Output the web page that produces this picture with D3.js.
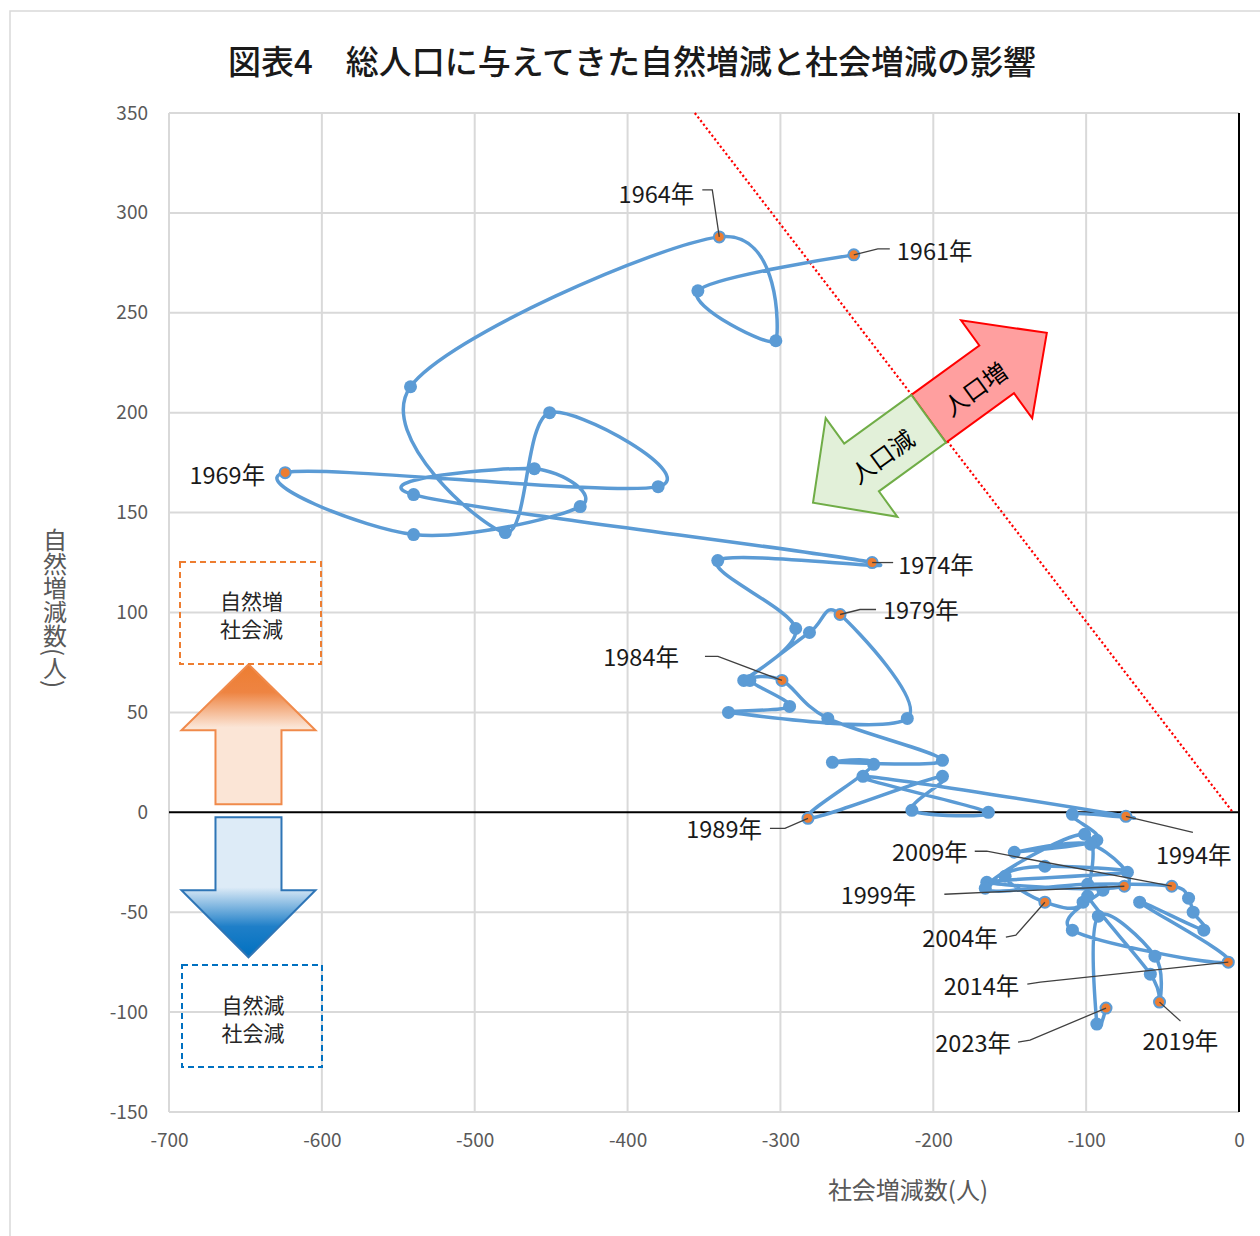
<!DOCTYPE html>
<html>
<head>
<meta charset="utf-8">
<script src="https://cdn.jsdelivr.net/npm/d3@7"></script>
<style>
  html, body { margin: 0; padding: 0; background: #fff; }
  svg { display: block; font-family: "Noto Sans CJK JP", "Noto Sans", sans-serif; }
</style>
</head>
<body>
<svg id="chart" width="1260" height="1236"></svg>
<script>
// ---- data: social change (x) and natural change (y) per year ----
const years = [
  1961, 1962, 1963, 1964, 1965, 1966, 1967, 1968, 1969, 1970,
  1971, 1972, 1973, 1974, 1975, 1976, 1977, 1978, 1979, 1980,
  1981, 1982, 1983, 1984, 1985, 1986, 1987, 1988, 1989, 1990,
  1991, 1992, 1993, 1994, 1995, 1996, 1997, 1998, 1999, 2000,
  2001, 2002, 2003, 2004, 2005, 2006, 2007, 2008, 2009, 2010,
  2011, 2012, 2013, 2014, 2015, 2016, 2017, 2018, 2019, 2020,
  2021, 2022, 2023
];
const socialChange = [
  -252, -354, -303, -340, -542, -480, -451, -380, -624, -540,
  -431, -461, -540, -240, -341, -290, -324, -281, -261, -217,
  -334, -294, -320, -299, -269, -194, -266, -239, -282, -194,
  -214, -164, -246,  -74, -109,  -93, -147,  -97,  -75, -165,
   -73, -127, -153, -127, -102, -101, -166,  -99,  -44,  -33,
   -30,  -23,  -65,   -7, -109,  -89,  -99,  -58,  -52,  -55,
   -92,  -93,  -87
];
const naturalChange = [
   279,  261,  236,  288,  213,  140,  200,  163,  170,  139,
   153,  172,  159,  125,  126,   92,   66,   90,   99,   47,
    50,   53,   66,   66,   47,   26,   25,   24,   -3,   18,
     1,    0,   18,   -2,   -1,  -14,  -20,  -16,  -37,  -35,
   -30,  -27,  -32,  -45,  -45,  -11,  -38,  -36,  -37,  -43,
   -50,  -59,  -45,  -75,  -59,  -39,  -42,  -81,  -95,  -72,
   -52, -106,  -98
];
const labeledYears = [1961, 1964, 1969, 1974, 1979, 1984, 1989, 1994, 1999, 2004, 2009, 2014, 2019, 2023];
const xTicks = [-700, -600, -500, -400, -300, -200, -100, 0];
const yTicks = [-150, -100, -50, 0, 50, 100, 150, 200, 250, 300, 350];

// break-even line (total change = 0) endpoints, in data units
const breakEvenLine = [[-356, 350], [-4, 0]];

const titleText = "図表4　総人口に与えてきた自然増減と社会増減の影響";
const xTitle = "社会増減数(人)";
const yTitle = "自然増減数(人)";

// ---- layout ----
const svg = d3.select("#chart");
const x = d3.scaleLinear().domain([-700, 0]).range([169, 1239]);
const y = d3.scaleLinear().domain([-150, 350]).range([1112, 113]);

const points = years.map((yr, i) => ({ year: yr, sx: socialChange[i], ny: naturalChange[i] }));

// label placement relative to the marker (pixels)
const labelLayout = {
  1961: { dx: 43,   dy: -5,  anchor: "start", leader: [[0,0],[24,-6],[36,-6]] },
  1964: { dx: -25,  dy: -44, anchor: "end",   leader: [[0,0],[-7,-47],[-17,-47]] },
  1969: { dx: -20,  dy: 1,   anchor: "end",   leader: null },
  1974: { dx: 26,   dy: 1,   anchor: "start", leader: [[0,0],[21,0]] },
  1979: { dx: 43,   dy: -5,  anchor: "start", leader: [[0,0],[20,-5],[36,-5]] },
  1984: { dx: -103, dy: -24, anchor: "end",   leader: [[0,0],[-64,-24],[-77,-24]] },
  1989: { dx: -46,  dy: 10,  anchor: "end",   leader: [[0,0],[-23,10],[-38,10]] },
  1994: { dx: 30,   dy: 38,  anchor: "start", leader: [[0,0],[67,16]] },
  1999: { dx: -208, dy: 8,   anchor: "end",   leader: [[0,0],[-180,8]] },
  2004: { dx: -47,  dy: 35,  anchor: "end",   leader: [[0,0],[-29,33],[-39,35]] },
  2009: { dx: -204, dy: -35, anchor: "end",   leader: [[0,0],[-185,-35],[-197,-35]] },
  2014: { dx: -209, dy: 23,  anchor: "end",   leader: [[0,0],[-188,20],[-201,22]] },
  2019: { dx: -17,  dy: 38,  anchor: "start", leader: [[0,0],[21,19]] },
  2023: { dx: -95,  dy: 34,  anchor: "end",   leader: [[0,0],[-76,32],[-88,34]] }
};

// chart area frame
svg.append("rect")
  .attr("x", 10).attr("y", 11).attr("width", 1270).attr("height", 1240)
  .attr("fill", "#fff").attr("stroke", "#D9D9D9").attr("stroke-width", 1.5);

// title
svg.append("text")
  .attr("x", 632).attr("y", 60)
  .attr("text-anchor", "middle").attr("dominant-baseline", "central")
  .attr("font-size", 33).attr("font-weight", 500).attr("fill", "#1a1a1a")
  .text(titleText);

// gridlines
const grid = svg.append("g");
grid.selectAll("line.gx").data(xTicks.filter(d => d !== 0)).join("line")
  .attr("x1", d => x(d)).attr("x2", d => x(d))
  .attr("y1", y(-150)).attr("y2", y(350))
  .attr("stroke", "#D9D9D9").attr("stroke-width", 2);
grid.selectAll("line.gy").data(yTicks.filter(d => d !== 0)).join("line")
  .attr("x1", x(-700)).attr("x2", x(0))
  .attr("y1", d => y(d)).attr("y2", d => y(d))
  .attr("stroke", "#D9D9D9").attr("stroke-width", 2);

// axis lines through zero
svg.append("line")
  .attr("x1", x(-700)).attr("x2", x(0)).attr("y1", y(0)).attr("y2", y(0))
  .attr("stroke", "#000").attr("stroke-width", 2);
svg.append("line")
  .attr("x1", x(0)).attr("x2", x(0)).attr("y1", y(-150)).attr("y2", y(350))
  .attr("stroke", "#000").attr("stroke-width", 2);

// tick labels
const yAxis = svg.append("g").attr("transform", `translate(${x(-700)},0)`)
  .call(d3.axisLeft(y).tickValues(yTicks).tickSize(0).tickPadding(21).tickFormat(d => String(d)));
const xAxis = svg.append("g").attr("transform", `translate(0,${y(-150)})`)
  .call(d3.axisBottom(x).tickValues(xTicks).tickSize(0).tickPadding(22).tickFormat(d => String(d)));
[yAxis, xAxis].forEach(a => {
  a.select(".domain").remove();
  a.selectAll("text")
    .attr("font-family", "'Noto Sans CJK JP', 'Noto Sans', sans-serif")
    .attr("font-size", 19).attr("fill", "#595959");
});

// axis titles
svg.append("text")
  .attr("x", 908).attr("y", 1188)
  .attr("text-anchor", "middle").attr("dominant-baseline", "central")
  .attr("font-size", 24).attr("fill", "#595959")
  .text(xTitle);
svg.append("text")
  .attr("x", 55).attr("y", 608)
  .attr("text-anchor", "middle")
  .style("writing-mode", "vertical-rl")
  .style("text-orientation", "mixed")
  .attr("font-size", 24).attr("fill", "#595959")
  .text(yTitle);

// break-even dotted line
svg.append("line")
  .attr("x1", x(breakEvenLine[0][0])).attr("y1", y(breakEvenLine[0][1]))
  .attr("x2", x(breakEvenLine[1][0])).attr("y2", y(breakEvenLine[1][1]))
  .attr("stroke", "#FF0000").attr("stroke-width", 2.2)
  .attr("stroke-dasharray", "2.2,2.4");

// ---- gradient arrows and boxes on the left ----
const defs = svg.append("defs");
const gUp = defs.append("linearGradient").attr("id", "gradUp")
  .attr("x1", 0).attr("y1", 0).attr("x2", 0).attr("y2", 1);
gUp.append("stop").attr("offset", "0%").attr("stop-color", "#ED7D31");
gUp.append("stop").attr("offset", "20%").attr("stop-color", "#EE8442");
gUp.append("stop").attr("offset", "45%").attr("stop-color", "#FBE5D6");
gUp.append("stop").attr("offset", "100%").attr("stop-color", "#FBE5D6");
const gDown = defs.append("linearGradient").attr("id", "gradDown")
  .attr("x1", 0).attr("y1", 0).attr("x2", 0).attr("y2", 1);
gDown.append("stop").attr("offset", "0%").attr("stop-color", "#DDEBF7");
gDown.append("stop").attr("offset", "50%").attr("stop-color", "#DDEBF7");
gDown.append("stop").attr("offset", "78%").attr("stop-color", "#1F7FC8");
gDown.append("stop").attr("offset", "100%").attr("stop-color", "#0070C0");

const ax = x(-648), ay = y(0);
const upArrow = [[0,-148],[67,-82],[33,-82],[33,-8],[-33,-8],[-33,-82],[-67,-82]];
const downArrow = [[-33,5],[33,5],[33,78],[67,78],[0,145],[-67,78],[-33,78]];
const poly = pts => "M" + pts.map(p => `${ax + p[0]},${ay + p[1]}`).join("L") + "Z";
svg.append("path").attr("d", poly(upArrow))
  .attr("fill", "url(#gradUp)").attr("stroke", "#F08A4B").attr("stroke-width", 2);
svg.append("path").attr("d", poly(downArrow))
  .attr("fill", "url(#gradDown)").attr("stroke", "#2E75B6").attr("stroke-width", 2);

const boxes = [
  { x0: 180, y0: 562, x1: 321, y1: 664, color: "#ED7D31", lines: ["自然増", "社会減"], ty: [600, 628] },
  { x0: 182, y0: 965, x1: 322, y1: 1067, color: "#0070C0", lines: ["自然減", "社会減"], ty: [1004, 1032] }
];
boxes.forEach(b => {
  svg.append("rect")
    .attr("x", b.x0).attr("y", b.y0).attr("width", b.x1 - b.x0).attr("height", b.y1 - b.y0)
    .attr("fill", "none").attr("stroke", b.color).attr("stroke-width", 2)
    .attr("stroke-dasharray", "6,4");
  b.lines.forEach((t, i) => {
    svg.append("text")
      .attr("x", (b.x0 + b.x1) / 2 + 1).attr("y", b.ty[i])
      .attr("text-anchor", "middle").attr("dominant-baseline", "central")
      .attr("font-size", 21).attr("fill", "#262626").text(t);
  });
});

// ---- series path ----
const line = d3.line()
  .x(d => x(d.sx)).y(d => y(d.ny))
  .curve(d3.curveCardinal.tension(0));
svg.append("path")
  .datum(points)
  .attr("d", line)
  .attr("fill", "none").attr("stroke", "#5B9BD5").attr("stroke-width", 3.5)
  .attr("stroke-linejoin", "round").attr("stroke-linecap", "round");

svg.append("g").selectAll("circle").data(points).join("circle")
  .attr("cx", d => x(d.sx)).attr("cy", d => y(d.ny))
  .attr("r", d => labeledYears.includes(d.year) ? 5.5 : 6.5)
  .attr("fill", d => labeledYears.includes(d.year) ? "#ED7D31" : "#5B9BD5")
  .attr("stroke", "#5B9BD5")
  .attr("stroke-width", d => labeledYears.includes(d.year) ? 2 : 0);

// ---- population increase / decrease arrows ----
const baseX = x(-203), baseY = y(197);
const arrows = [
  { pts: [[0,-29.5],[84,-29.5],[84,-60.5],[146,0],[84,60.5],[84,29.5],[0,29.5]],
    fill: "#FF9F9F", stroke: "#FF0000", text: "人口増", tu: 55 },
  { pts: [[0,-29.5],[-83,-29.5],[-83,-61],[-143,0],[-83,61],[-83,29.5],[0,29.5]],
    fill: "#E2F0D9", stroke: "#70AD47", text: "人口減", tu: -60 }
];
const ag = svg.append("g").attr("transform", `translate(${baseX},${baseY}) rotate(-36)`);
arrows.forEach(a => {
  ag.append("path")
    .attr("d", "M" + a.pts.map(p => p.join(",")).join("L") + "Z")
    .attr("fill", a.fill).attr("stroke", a.stroke).attr("stroke-width", 2)
    .attr("stroke-linejoin", "miter");
});
arrows.forEach(a => {
  ag.append("text")
    .attr("x", a.tu).attr("y", 2)
    .attr("text-anchor", "middle").attr("dominant-baseline", "central")
    .attr("font-size", 24).attr("fill", "#000").text(a.text);
});

// ---- year labels with leader lines ----
const labelled = points.filter(d => labeledYears.includes(d.year));
const lg = svg.append("g");
labelled.forEach(d => {
  const L = labelLayout[d.year];
  const px = x(d.sx), py = y(d.ny);
  if (L.leader) {
    lg.append("path")
      .attr("d", "M" + L.leader.map(p => `${px + p[0]},${py + p[1]}`).join("L"))
      .attr("fill", "none").attr("stroke", "#404040").attr("stroke-width", 1.3);
  }
  lg.append("text")
    .attr("x", px + L.dx).attr("y", py + L.dy)
    .attr("text-anchor", L.anchor).attr("dominant-baseline", "central")
    .attr("font-size", 23.5).attr("fill", "#1a1a1a")
    .text(d.year + "年");
});
</script>
</body>
</html>
